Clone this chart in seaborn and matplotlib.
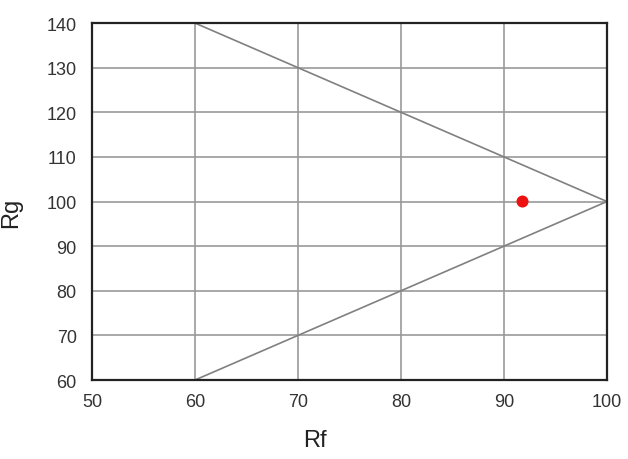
import matplotlib
matplotlib.use("Agg")
import matplotlib.pyplot as plt
import seaborn as sns
import pandas as pd

# Triangle boundary lines
line_rf = [60, 100, 60]
line_rg = [140, 100, 60]

# Measured point
point_rf = [91.8]
point_rg = [100]

x_ticks = [50, 60, 70, 80, 90, 100]
y_ticks = [60, 70, 80, 90, 100, 110, 120, 130, 140]

sns.set_style("white")
plt.rcParams["font.family"] = ["Liberation Sans", "DejaVu Sans"]

fig = plt.figure(figsize=(6.28, 4.6), dpi=100)
ax = fig.add_axes([0.1465, 0.1717, 0.82, 0.776])

tri = pd.DataFrame({"Rf": line_rf, "Rg": line_rg})
ax.plot(tri["Rf"], tri["Rg"], color="#808080", linewidth=1.2, zorder=2)

pt = pd.DataFrame({"Rf": point_rf, "Rg": point_rg})
sns.scatterplot(data=pt, x="Rf", y="Rg", ax=ax, color="#ee1111", s=75,
                edgecolor="none", zorder=3)

ax.set_xlim(50, 100)
ax.set_ylim(60, 140)
ax.set_xticks(x_ticks)
ax.set_yticks(y_ticks)
ax.grid(True, color="#999999", linewidth=1.2, zorder=1)
ax.set_axisbelow(True)
ax.tick_params(axis="both", length=0, labelsize=13, labelcolor="#333333")
ax.tick_params(axis="x", pad=9)
ax.tick_params(axis="y", pad=11)

for s in ax.spines.values():
    s.set_visible(True)
    s.set_color("#222222")
    s.set_linewidth(1.6)

ax.set_xlabel("")
ax.set_ylabel("")
fig.text(315 / 628, 1 - 441 / 460, "Rf", fontsize=17, color="#222222",
         ha="center", va="center")
fig.text(11 / 628, 1 - 213 / 460, "Rg", fontsize=17, color="#222222",
         ha="center", va="center", rotation=90)

fig.savefig("out.png", dpi=100)
